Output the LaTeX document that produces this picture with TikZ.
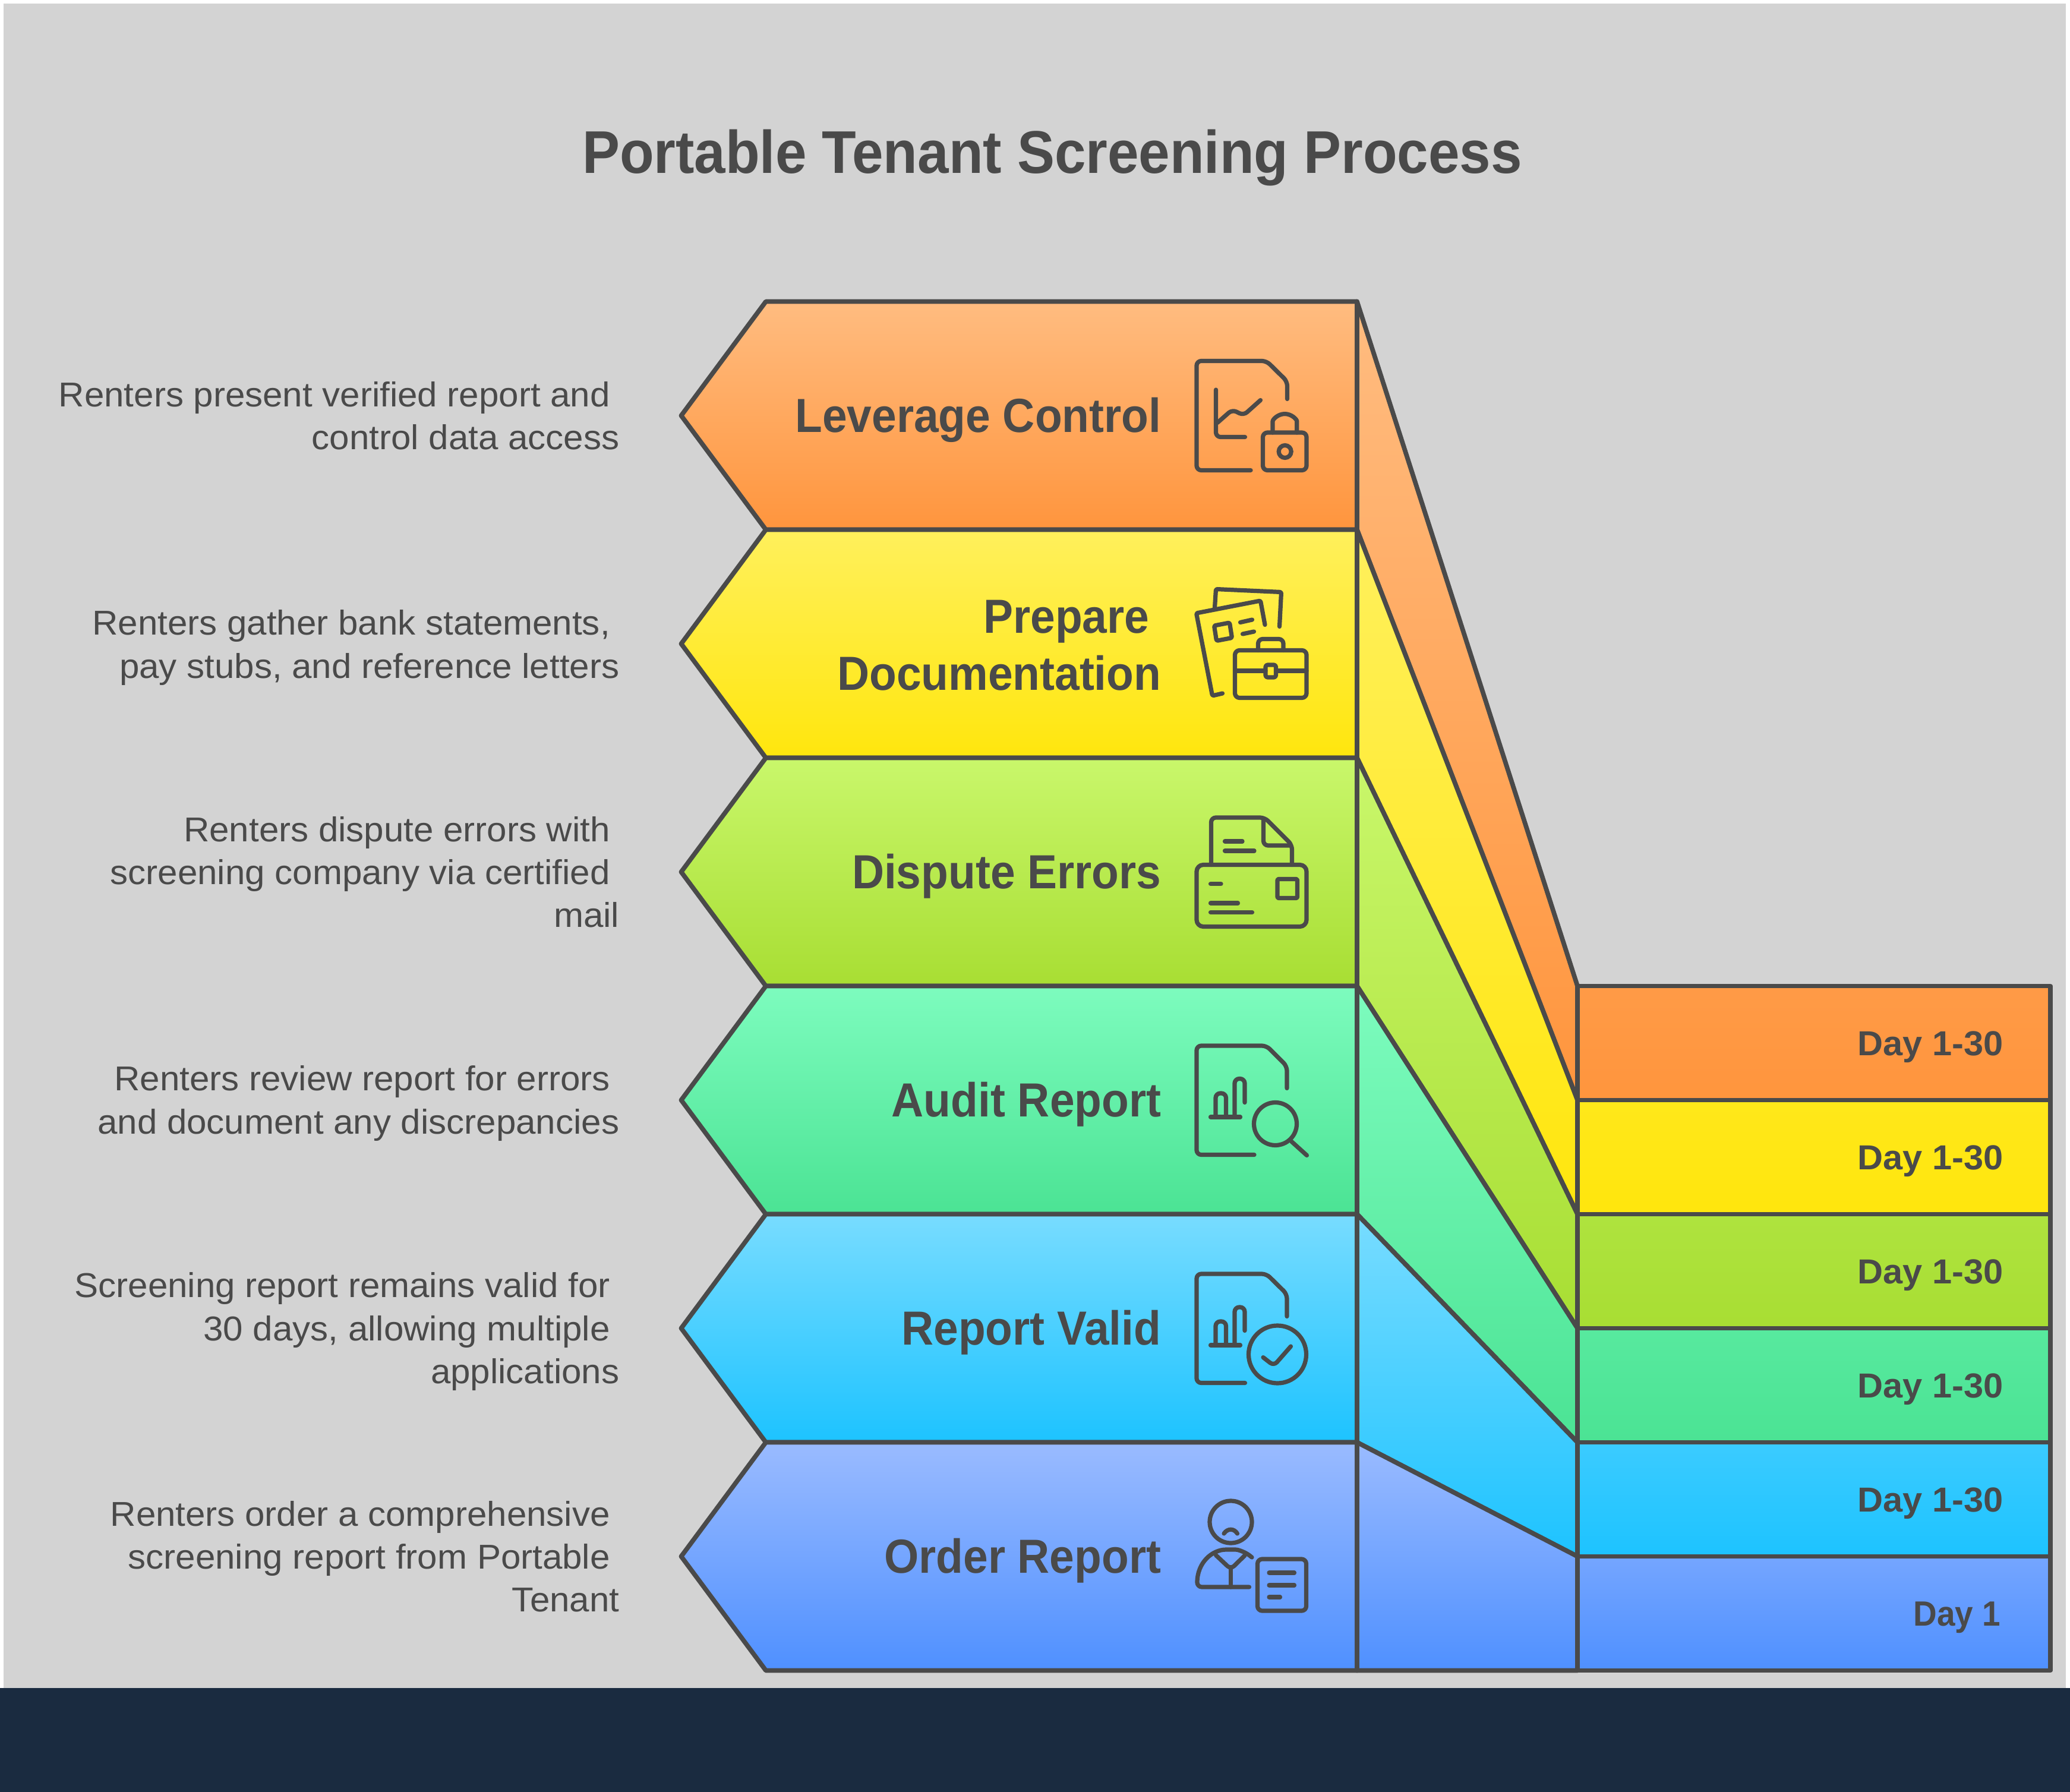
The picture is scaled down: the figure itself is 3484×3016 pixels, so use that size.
\documentclass[tikz,border=0pt]{standalone}
\usepackage{fontspec}
\setmainfont[FakeStretch=1.035]{Liberation Sans}
\newfontfamily\titleface[FakeStretch=0.93]{Liberation Sans Bold}
\newfontfamily\tagface[FakeStretch=1.02]{Liberation Sans Bold}
\definecolor{ink}{HTML}{4A4A4A}
\definecolor{paper}{HTML}{D3D3D3}
\definecolor{navy}{HTML}{1A2B40}
\definecolor{orangetop}{HTML}{FFBC80}
\definecolor{orangelow}{HTML}{FF953D}
\definecolor{yellowtop}{HTML}{FFF05C}
\definecolor{yellowlow}{HTML}{FFE60D}
\definecolor{greentop}{HTML}{C9F76B}
\definecolor{greenlow}{HTML}{A8DE33}
\definecolor{minttop}{HTML}{7DFCBE}
\definecolor{mintlow}{HTML}{4BE394}
\definecolor{cyantop}{HTML}{78DCFF}
\definecolor{cyanlow}{HTML}{1DC3FF}
\definecolor{bluetop}{HTML}{9ABBFF}
\definecolor{bluelow}{HTML}{4F90FF}
\newcommand{\gapend}{\kern4.4pt\relax}
\tikzset{
  outline/.style={draw=ink,line width=2.2pt,line join=round},
  glyph/.style={draw=ink,line width=2.05pt,line cap=round,line join=round,rounded corners=2.2pt},
  heading/.style={anchor=east,align=right,inner sep=0pt,text=ink,font=\titleface\fontsize{22.9}{27.3}\selectfont},
  remark/.style={anchor=east,align=right,inner sep=0pt,text=ink,font=\fontsize{16.5}{20.5}\selectfont},
  daytag/.style={anchor=east,inner sep=0pt,text=ink,font=\tagface\fontsize{16.6}{20}\selectfont}
}

\begin{document}
\begin{tikzpicture}[x=0.01cm,y=-0.01cm]
\useasboundingbox (0,0) rectangle (3484,3016);
% fondo
   \fill[white] (0,0) rectangle (3484,3016);
   \fill[paper] (6,6) rectangle (3477,2841);
   \fill[navy] (0,2841) rectangle (3484,3016);
   \node[text=ink,font=\titleface\fontsize{28.85}{34}\selectfont] (title) at (1771,266) {Portable Tenant Screening Process};
% fasce e frecce
   \foreach \topy/\lowy/\righty/\tone in {507.5/891.5/1659.5/orange,891.5/1275.5/1851.5/yellow,1275.5/1659.5/2043.5/green,1659.5/2043.5/2235.5/mint,2043.5/2427.5/2427.5/cyan,2427.5/2811.5/2619.5/blue} {
     \pgfmathsetmacro{\midy}{(\topy+\lowy)/2}
     \pgfmathsetmacro{\rlow}{\righty+192}
     \pgfmathsetmacro{\share}{(\righty-\topy)/(\rlow-\topy)*100}
     \path[outline,top color=\tone top,bottom color=\tone low] (2284,\topy) -- (2655,\righty) -- (2655,\rlow) -- (2284,\lowy) -- cycle;
     \path[outline,top color=\tone top,bottom color=\tone low] (1289,\topy) -- (2284,\topy) -- (2284,\lowy) -- (1289,\lowy) -- (1146.5,\midy) -- cycle;
     \path[outline,top color=\tone low!\share!\tone top,bottom color=\tone low] (2655,\righty) rectangle (3451,\rlow);
   }
% titoli delle frecce
   \node[heading] (leverage) at (1955,707) {Leverage Control};
   \node[heading] (prepare) at (1955,1086) {Prepare\kern5.7pt\relax\\Documentation};
   \node[heading] (dispute) at (1955,1475) {Dispute Errors};
   \node[heading] (audit) at (1955,1859) {Audit Report};
   \node[heading] (valid) at (1955,2243) {Report Valid};
   \node[heading] (order) at (1955,2627) {Order Report};
% testi a sinistra
   \node[remark] (noteleverage) at (1043,700) {Renters present verified report and\gapend\\control data access};
   \node[remark] (noteprepare) at (1043,1090) {Renters gather bank statements,\gapend\\pay stubs, and reference letters};
   \node[remark] (notedispute) at (1043,1468) {Renters dispute errors with\gapend\\screening company via certified\gapend\\mail};
   \node[remark] (noteaudit) at (1043,1857) {Renters review report for errors\gapend\\and document any discrepancies};
   \node[remark] (notevalid) at (1043,2241) {Screening report remains valid for\gapend\\30 days, allowing multiple\gapend\\applications};
   \node[remark] (noteorder) at (1043,2620) {Renters order a comprehensive\gapend\\screening report from Portable\gapend\\Tenant};
% giorni
   \node[daytag] (dayleverage) at (3372,1762.5) {Day 1-30};
   \node[daytag] (dayprepare) at (3372,1954.5) {Day 1-30};
   \node[daytag] (daydispute) at (3372,2146.5) {Day 1-30};
   \node[daytag] (dayaudit) at (3372,2338.5) {Day 1-30};
   \node[daytag] (dayvalid) at (3372,2530.5) {Day 1-30};
   \node[daytag,font=\titleface\fontsize{16.8}{20}\selectfont] (dayorder) at (3368,2722.5) {Day 1};
% icona lucchetto
   \draw[glyph] (2105,791.5) -- (2014,791.5) -- (2014,607.5) -- (2131.5,607.5) -- (2166.5,642) -- (2166.5,671.5);
   \draw[glyph] (2046.5,656) -- (2046.5,735.5) -- (2095.5,735.5);
   \draw[glyph] (2049,711.5) -- (2074,689.5) -- (2093,699) -- (2121.5,673.5);
   \draw[glyph] (2125.5,728) rectangle (2199,791.5);
   \draw[glyph] (2142,728) -- (2142,717) arc (180:360:20.4) -- (2182.8,728);
   \draw[glyph] (2162.7,760) circle (10.5);
% icona valigetta
   \draw[glyph,rounded corners=0.5pt] (2044.5,1023) -- (2046.5,991.5) -- (2156.5,996.5) -- (2153.5,1054.5);
   \draw[glyph,rounded corners=0.5pt] (2057.5,1167) -- (2040.5,1171) -- (2013.5,1032) -- (2121.5,1011) -- (2129,1051.5);
   \draw[glyph,rounded corners=0.5pt] (2043.5,1053) -- (2069.5,1048) -- (2073.5,1073.5) -- (2047.5,1078.5) -- cycle;
   \draw[glyph] (2087.5,1047.5) -- (2107.5,1043);
   \draw[glyph] (2091.5,1067) -- (2110.5,1063);
   \draw[glyph] (2078.5,1094.5) rectangle (2199,1174.5);
   \draw[glyph] (2117.5,1094.5) -- (2117.5,1075.5) -- (2160,1075.5) -- (2160,1094.5);
   \draw[glyph] (2078.5,1129) -- (2130,1129);
   \draw[glyph] (2147.5,1129) -- (2199,1129);
   \draw[glyph,rounded corners=1pt] (2130,1119) rectangle (2147.5,1140);
% icona lettera
   \draw[glyph] (2038.5,1455.5) -- (2038.5,1376) -- (2128.5,1376) -- (2174.5,1422) -- (2174.5,1455.5);
   \draw[glyph] (2126.5,1378) -- (2126.5,1423) -- (2172,1423);
   \draw[glyph] (2061.5,1416) -- (2091,1416);
   \draw[glyph] (2061.5,1432) -- (2111,1432);
   \draw[glyph,rounded corners=3.2pt] (2014,1455.5) rectangle (2199,1559.5);
   \draw[glyph,rounded corners=0.6pt] (2150,1479.5) rectangle (2183.5,1511.5);
   \draw[glyph] (2037.5,1487.5) -- (2055,1487.5);
   \draw[glyph] (2037.5,1520) -- (2083.5,1520);
   \draw[glyph] (2037.5,1535.5) -- (2107.5,1535.5);
% icona lente
   \draw[glyph] (2111,1943.5) -- (2014,1943.5) -- (2014,1760) -- (2131.5,1760) -- (2166,1794.5) -- (2166,1831.5);
   \draw[glyph] (2037.5,1880) -- (2087.5,1880);
   \draw[glyph] (2046,1880) -- (2046,1840) -- (2063.5,1840) -- (2063.5,1880);
   \draw[glyph] (2078,1880) -- (2078,1815.5) -- (2095,1815.5) -- (2095,1855.5);
   \draw[glyph] (2146.5,1891.5) circle (36);
   \draw[glyph] (2173.5,1921) -- (2199.5,1944.5);
% icona spunta
   \draw[glyph] (2095.5,2327.5) -- (2014,2327.5) -- (2014,2144) -- (2131.5,2144) -- (2166,2178) -- (2166,2215.5);
   \draw[glyph] (2037.5,2264) -- (2087.5,2264);
   \draw[glyph] (2046,2264) -- (2046,2224) -- (2063.5,2224) -- (2063.5,2264);
   \draw[glyph] (2078,2264) -- (2078,2200) -- (2095,2200) -- (2095,2239.5);
   \draw[glyph] (2150,2279.5) circle (48.5);
   \draw[glyph] (2126,2284.5) -- (2144,2298.5) -- (2172.5,2266);
% icona persona
   \draw[glyph] (2071.5,2561.5) circle (35.5);
   \draw[glyph] (2060,2581) .. controls (2066,2572) and (2077,2572) .. (2082.5,2581);
   \draw[glyph] (2102.5,2671) -- (2015,2671) .. controls (2015,2630) and (2040,2608) .. (2071.5,2608) .. controls (2085,2608) and (2098,2613) .. (2107,2621);
   \draw[glyph] (2046.5,2617.5) -- (2071.5,2641) -- (2095,2618);
   \draw[glyph] (2071.5,2641) -- (2071.5,2671);
   \draw[glyph] (2116.5,2624) rectangle (2198.5,2711);
   \draw[glyph] (2136,2647) -- (2178.5,2647);
   \draw[glyph] (2136,2668) -- (2178.5,2668);
   \draw[glyph] (2136,2688) -- (2154.5,2688);
\end{tikzpicture}
\end{document}
